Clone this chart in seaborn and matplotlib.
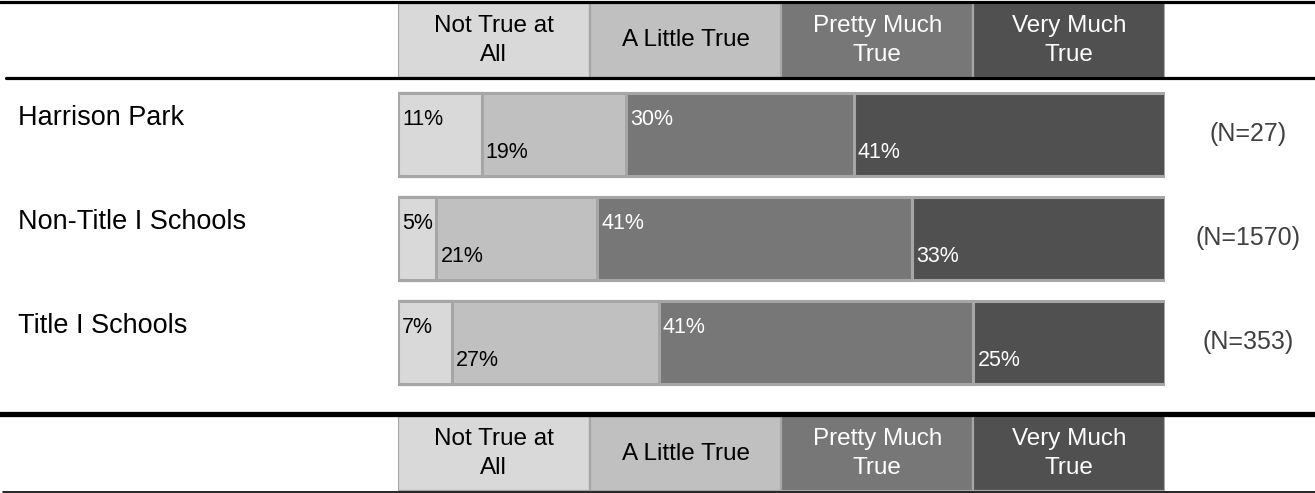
import numpy as np
import pandas as pd
import matplotlib.pyplot as plt
from matplotlib.lines import Line2D
from matplotlib.transforms import blended_transform_factory
import seaborn as sns

# donnees
schools = ["Harrison Park", "Non-Title I Schools", "Title I Schools"]
n_labels = ["(N=27)", "(N=1570)", "(N=353)"]
categories = ["Not True at\nAll", "A Little True", "Pretty Much\nTrue", "Very Much\nTrue"]
not_true = [11, 5, 7]
little_true = [19, 21, 27]
pretty_much = [30, 41, 41]
very_much = [41, 33, 25]

colors = ["#d9d9d9", "#c0c0c0", "#777777", "#505050"]
text_colors = ["black", "black", "white", "white"]
edge = "#a6a6a6"

sns.set_style("white")
plt.rcParams["font.family"] = ["Liberation Sans", "DejaVu Sans"]

W, H = 1315, 493
fig = plt.figure(figsize=(W / 100, H / 100), dpi=100)


def box(x0, y0, x1, y1):
    # rectangle en pixels -> coordonnees figure
    return [x0 / W, 1 - y1 / H, (x1 - x0) / W, (y1 - y0) / H]


vals = np.array([not_true, little_true, pretty_much, very_much], dtype=float).T
pct = vals / vals.sum(axis=1, keepdims=True) * 100
cum = pct.cumsum(axis=1)
starts = cum - pct

# barres empilees : on trace les cumuls du plus grand au plus petit
ax = fig.add_axes(box(398, 82.5, 1165, 394.5))
for k in reversed(range(4)):
    df = pd.DataFrame({"school": schools, "cum": cum[:, k]})
    sns.barplot(data=df, x="cum", y="school", orient="h", color=colors[k],
                saturation=1, width=0.79, edgecolor=edge, linewidth=2.2,
                errorbar=None, ax=ax)
ax.set_xlim(0, 100)
ax.set_ylim(2.5, -0.5)
ax.axis("off")

# x en coordonnees figure, y en donnees
trans = blended_transform_factory(fig.transFigure, ax.transData)

for i in range(len(schools)):
    # etiquettes de pourcentage (alternance haut / bas)
    for k in range(4):
        dy = -0.14 if k % 2 == 0 else 0.17
        ax.text(starts[i, k] + 0.55, i + dy, f"{int(vals[i, k])}%",
                color=text_colors[k], fontsize=15.5, va="center", ha="left")
    # nom de l'ecole a gauche
    ax.text(18 / W, i - 0.16, schools[i], transform=trans,
            fontsize=19.5, va="center", ha="left", color="black")
    # effectif a droite
    ax.text(1248 / W, i, n_labels[i], transform=trans,
            fontsize=18, va="center", ha="center", color="#404040")


def header(y0, y1):
    hx = fig.add_axes(box(398, y0, 1165, y1))
    hx.barh([0] * 4, [1] * 4, left=np.arange(4), height=1, color=colors,
            edgecolor=edge, linewidth=1.6)
    for k, lab in enumerate(categories):
        hx.text(k + 0.5, 0, lab, ha="center", va="center", fontsize=17.5,
                color=text_colors[k], linespacing=1.45)
    hx.set_xlim(0, 4)
    hx.set_ylim(-0.5, 0.5)
    hx.axis("off")


header(3, 78)
header(416, 491)

# lignes horizontales
fig.add_artist(Line2D([0, 1], [1 - 1.5 / H] * 2, color="black", lw=2.3))
fig.add_artist(Line2D([6 / W, 1], [1 - 78 / H] * 2, color="black", lw=2.3))
fig.add_artist(Line2D([0, 1], [1 - 413.5 / H] * 2, color="black", lw=3.8))
fig.add_artist(Line2D([3 / W, 1], [1 - 491.5 / H] * 2, color="black", lw=1.2))

fig.savefig("out.png", dpi=100)
